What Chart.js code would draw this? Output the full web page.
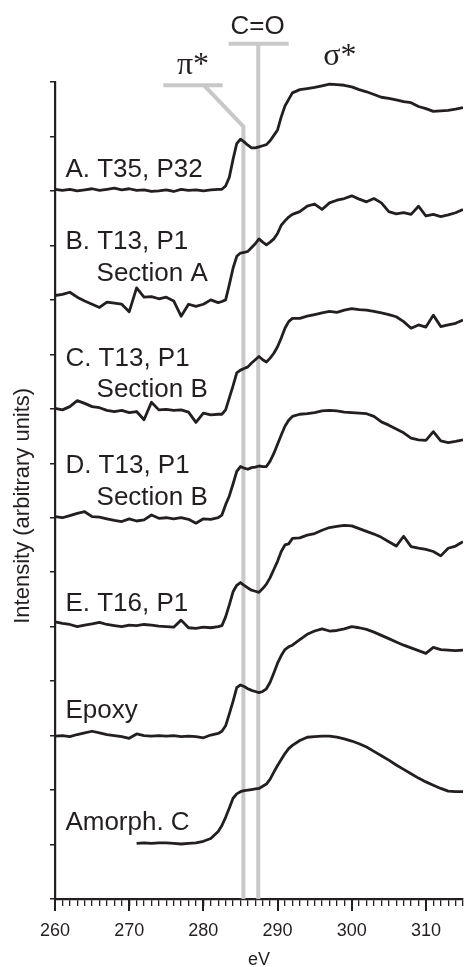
<!DOCTYPE html>
<html>
<head>
<meta charset="utf-8">
<title>C 1s NEXAFS spectra</title>
<script src="https://cdn.jsdelivr.net/npm/chart.js@4.4.1/dist/chart.umd.min.js"></script>
<style>
  html, body { margin: 0; padding: 0; background: #fff; }
  #chart { display: block; }
</style>
</head>
<body>
<canvas id="chart" width="465" height="967"></canvas>
<script>
// photon energy (eV), shared by every spectrum
const energies = [260, 261, 262, 263, 264, 265, 266, 267, 268, 269, 270, 271, 272, 273, 274, 275, 276, 277, 278, 279, 280, 281, 282,
  282.5, 283, 283.5, 284, 284.5, 285, 285.5, 286, 286.5, 287, 287.5, 288, 288.5, 289, 289.5, 290, 290.5, 291, 291.5, 292,
  293, 294, 295, 296, 297, 298, 299, 300, 301, 302, 303, 304, 305, 306, 307, 308, 309, 310, 311, 312, 313, 314, 315];

const spectrumA = [13.03, 13.01, 13.03, 13.00, 13.02, 13.04, 13.01, 13.03, 13.05, 13.02, 13.04, 13.01, 13.02, 12.99, 13.00, 13.02, 12.99, 13.03, 13.01, 13.02, 13.00, 13.02, 13.03,
  13.03, 13.09, 13.25, 13.58, 13.87, 13.95, 13.90, 13.84, 13.79, 13.79, 13.81, 13.83, 13.85, 13.92, 14.02, 14.12, 14.36, 14.56, 14.68, 14.80,
  14.86, 14.88, 14.90, 14.93, 14.96, 14.95, 14.94, 14.91, 14.86, 14.82, 14.77, 14.72, 14.70, 14.67, 14.64, 14.62, 14.55, 14.51, 14.46, 14.47, 14.48, 14.50, 14.53];

const spectrumB = [11.08, 11.10, 11.14, 11.05, 10.98, 10.92, 10.86, 10.96, 10.94, 10.92, 10.78, 11.22, 11.05, 11.06, 11.02, 11.05, 10.98, 10.70, 10.92, 10.88, 10.92, 11.00, 10.95,
  10.97, 11.00, 11.28, 11.58, 11.80, 11.86, 11.87, 11.89, 11.96, 12.03, 12.12, 12.06, 12.01, 12.06, 12.12, 12.22, 12.37, 12.45, 12.52, 12.57,
  12.62, 12.72, 12.76, 12.66, 12.78, 12.83, 12.86, 12.91, 12.85, 12.80, 12.86, 12.78, 12.62, 12.58, 12.60, 12.57, 12.72, 12.54, 12.57, 12.53, 12.56, 12.60, 12.66];

const spectrumC = [9.01, 8.98, 9.04, 9.15, 9.10, 9.04, 9.02, 8.97, 8.95, 8.97, 8.93, 8.95, 8.80, 9.12, 8.98, 8.99, 8.97, 8.98, 8.94, 8.75, 8.92, 8.89, 8.90,
  8.90, 8.98, 9.20, 9.42, 9.66, 9.71, 9.74, 9.77, 9.84, 9.90, 9.96, 9.90, 9.86, 9.93, 10.02, 10.14, 10.30, 10.48, 10.60, 10.66,
  10.66, 10.70, 10.73, 10.76, 10.79, 10.77, 10.81, 10.84, 10.82, 10.81, 10.79, 10.76, 10.73, 10.69, 10.60, 10.48, 10.54, 10.50, 10.72, 10.51, 10.54, 10.57, 10.63];

const spectrumD = [7.02, 7.00, 7.04, 7.08, 7.11, 7.02, 7.01, 6.98, 6.95, 6.93, 6.98, 6.94, 6.96, 7.05, 6.99, 7.00, 6.98, 7.00, 6.97, 6.90, 6.98, 6.97, 7.00,
  7.05, 7.24, 7.40, 7.62, 7.85, 7.94, 7.91, 7.89, 7.92, 7.93, 7.95, 7.94, 7.94, 8.04, 8.18, 8.35, 8.52, 8.68, 8.79, 8.86,
  8.90, 8.91, 8.93, 8.96, 8.97, 8.96, 8.94, 8.93, 8.92, 8.91, 8.86, 8.76, 8.70, 8.63, 8.56, 8.46, 8.43, 8.42, 8.58, 8.41, 8.38, 8.40, 8.43];

const spectrumE = [5.09, 5.06, 5.04, 5.00, 5.03, 5.05, 5.08, 5.04, 5.02, 5.00, 5.03, 5.02, 5.04, 5.03, 5.01, 5.00, 4.99, 5.12, 4.98, 4.97, 4.99, 4.98, 5.00,
  5.02, 5.18, 5.40, 5.64, 5.76, 5.81, 5.76, 5.71, 5.67, 5.65, 5.63, 5.70, 5.78, 5.90, 6.05, 6.20, 6.38, 6.50, 6.52, 6.62,
  6.63, 6.68, 6.71, 6.77, 6.82, 6.84, 6.86, 6.85, 6.80, 6.75, 6.70, 6.64, 6.56, 6.48, 6.66, 6.47, 6.44, 6.42, 6.38, 6.30, 6.44, 6.48, 6.56];

const spectrumEpoxy = [2.99, 3.00, 2.98, 3.02, 3.05, 3.08, 3.05, 3.02, 3.00, 2.98, 2.95, 3.03, 3.00, 2.99, 3.00, 2.99, 3.00, 2.98, 2.99, 2.98, 2.96, 3.01, 3.04,
  3.08, 3.18, 3.40, 3.63, 3.88, 3.93, 3.90, 3.86, 3.83, 3.81, 3.79, 3.81, 3.86, 3.98, 4.15, 4.33, 4.47, 4.58, 4.63, 4.66,
  4.76, 4.86, 4.92, 4.96, 4.92, 4.93, 4.96, 5.00, 4.98, 4.95, 4.90, 4.84, 4.78, 4.72, 4.66, 4.61, 4.56, 4.51, 4.62, 4.58, 4.57, 4.56, 4.57];

const spectrumAmorphC = [null, null, null, null, null, null, null, null, null, null, null, 1.02, 1.03, 1.02, 1.03, 1.03, 1.02, 1.01, 1.02, 1.03, 1.06, 1.11, 1.24,
  1.35, 1.50, 1.67, 1.85, 1.93, 1.97, 1.99, 2.00, 2.01, 2.02, 2.03, 2.07, 2.11, 2.20, 2.33, 2.45, 2.56, 2.67, 2.76, 2.82,
  2.91, 2.97, 2.98, 2.99, 2.99, 2.97, 2.94, 2.90, 2.85, 2.79, 2.71, 2.63, 2.55, 2.46, 2.38, 2.30, 2.22, 2.15, 2.09, 2.03, 1.98, 1.97, 1.97];

const sampleNames = [
  ['A. T35, P32'],
  ['B. T13, P1', 'Section A'],
  ['C. T13, P1', 'Section B'],
  ['D. T13, P1', 'Section B'],
  ['E. T16, P1'],
  ['Epoxy'],
  ['Amorph. C']
];

const piStarEnergy = 285.4;
const carbonylEnergy = 287.4;
const peakNames = ['π*', 'C=O', 'σ*'];

const xTickValues = [260, 270, 280, 290, 300, 310];

const INK = '#231f20';
const GUIDE = '#c8c8c8';
const SANS = '"Liberation Sans", Arial, sans-serif';
const SERIF = '"Liberation Serif", "Times New Roman", serif';

function toPoints(values) {
  return energies.map((e, i) => ({ x: e, y: values[i] }));
}

function spectrumDataset(values) {
  return {
    data: toPoints(values),
    borderColor: INK,
    borderWidth: 2.8,
    borderJoinStyle: 'round',
    pointRadius: 0,
    tension: 0,
    spanGaps: false,
    order: 0
  };
}

function guideDataset(points) {
  return {
    data: points,
    borderColor: GUIDE,
    borderWidth: 4,
    borderCapStyle: 'butt',
    pointRadius: 0,
    clip: false,
    order: 5
  };
}

// sample names, written in data units so they follow the scales
const annotationPlugin = {
  id: 'annotations',
  afterDatasetsDraw(chart) {
    const { ctx, scales: { x, y } } = chart;
    const firstLine = [13.26, 11.93, 9.79, 7.82, 5.29, 3.32, 1.26];
    ctx.save();
    ctx.fillStyle = INK;
    ctx.textBaseline = 'alphabetic';
    ctx.textAlign = 'left';
    ctx.font = `26px ${SANS}`;
    sampleNames.forEach((lines, i) => {
      const py = y.getPixelForValue(firstLine[i]);
      ctx.fillText(lines[0], x.getPixelForValue(261.4), py);
      if (lines[1]) {
        ctx.fillText(lines[1], x.getPixelForValue(265.6), py + 31.5);
      }
    });

    ctx.textAlign = 'center';
    ctx.font = `32px ${SERIF}`;
    ctx.fillText(peakNames[0], x.getPixelForValue(278.6), y.getPixelForValue(15.15));
    ctx.fillText(peakNames[2], x.getPixelForValue(298.4), y.getPixelForValue(15.31));
    ctx.font = `26px ${SANS}`;
    ctx.fillText(peakNames[1], x.getPixelForValue(287.3), y.getPixelForValue(15.88));
    ctx.restore();
  }
};

const ctx = document.getElementById('chart').getContext('2d');
new Chart(ctx, {
  type: 'line',
  data: {
    datasets: [
      spectrumDataset(spectrumA),
      spectrumDataset(spectrumB),
      spectrumDataset(spectrumC),
      spectrumDataset(spectrumD),
      spectrumDataset(spectrumE),
      spectrumDataset(spectrumEpoxy),
      spectrumDataset(spectrumAmorphC),
      guideDataset([{ x: 274.6, y: 14.94 }, { x: 282.6, y: 14.94 }]),
      guideDataset([{ x: 280.1, y: 14.94 }, { x: piStarEnergy, y: 14.18 }, { x: piStarEnergy, y: 0 }]),
      guideDataset([{ x: 283.4, y: 15.7 }, { x: 291.5, y: 15.7 }]),
      guideDataset([{ x: carbonylEnergy, y: 15.7 }, { x: carbonylEnergy, y: 0 }])
    ]
  },
  options: {
    responsive: false,
    devicePixelRatio: 1,
    animation: false,
    events: [],
    layout: { padding: { left: 0, right: 2, top: 82, bottom: 0 } },
    plugins: { legend: { display: false }, tooltip: { enabled: false } },
    scales: {
      x: {
        type: 'linear',
        position: 'bottom',
        min: 260,
        max: 315,
        afterFit: scale => { scale.height = 0; },
        ticks: { display: false, stepSize: 1, maxTicksLimit: 100, autoSkip: false },
        grid: { drawOnChartArea: false, drawTicks: true, tickLength: 7, color: INK, lineWidth: 1.3 },
        border: { display: true, color: INK, width: 2.2 }
      },
      xMajor: {
        axis: 'x',
        type: 'linear',
        position: 'bottom',
        min: 260,
        max: 315,
        afterFit: scale => { scale.height = 68; },
        afterBuildTicks: scale => { scale.ticks = xTickValues.map(v => ({ value: v })); },
        ticks: { color: INK, padding: 9, font: { size: 18, family: SANS }, autoSkip: false, maxRotation: 0 },
        grid: { drawOnChartArea: false, drawTicks: true, tickLength: 12, color: INK, lineWidth: 2 },
        border: { display: false },
        title: { display: true, text: 'eV', color: INK, padding: 0, font: { size: 18, family: SANS, lineHeight: 0.8 } }
      },
      y: {
        type: 'linear',
        position: 'left',
        min: 0,
        max: 15,
        afterFit: scale => { scale.width = 55; },
        ticks: { display: false, stepSize: 1, maxTicksLimit: 30 },
        grid: { drawOnChartArea: false, drawTicks: true, tickLength: 5, color: INK, lineWidth: 1.5 },
        border: { display: true, color: INK, width: 2.2 },
        title: {
          display: true,
          text: 'Intensity (arbitrary units)     ',
          color: INK,
          padding: { top: 10, bottom: 0 },
          font: { size: 22, family: SANS }
        }
      }
    }
  },
  plugins: [annotationPlugin]
});
</script>
</body>
</html>
